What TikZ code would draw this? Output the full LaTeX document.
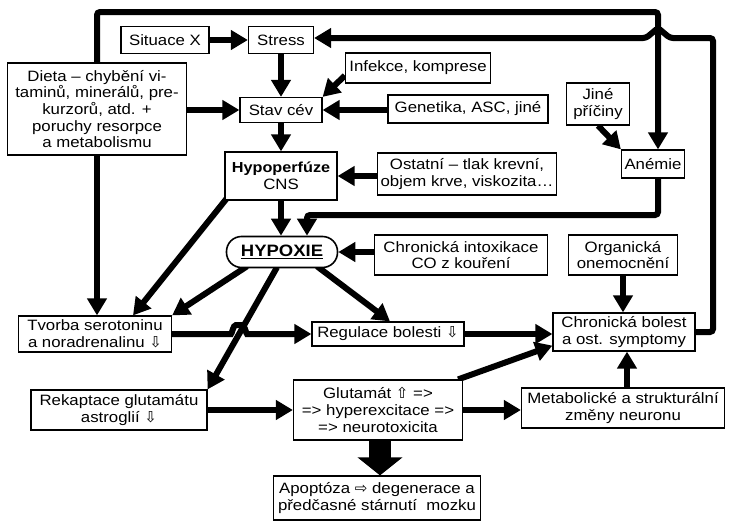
\documentclass[tikz,border=0pt]{standalone}
\usepackage{fontspec}
\setmainfont{Liberation Sans}[FakeStretch=1.12]
\newfontfamily\symf{DejaVu Sans}
\usetikzlibrary{arrows.meta,backgrounds}
\newcommand\myDn{{\symf\fontsize{15}{15}\selectfont ⇩}}
\newcommand\myUp{{\symf\fontsize{15}{15}\selectfont ⇧}}
\newcommand\myRt{{\symf\fontsize{15}{15}\selectfont ⇨}}
\begin{document}
\begin{tikzpicture}[x=1pt,y=-1pt, font=\fontsize{15}{16.6}\selectfont,
  box/.style={draw, line width=1.2pt, fill=white, align=center, inner sep=1pt},
  arr/.style={line width=6pt, -{Triangle[length=17pt,width=19pt]}, rounded corners=3pt}]
\useasboundingbox (0,0) rectangle (729,525);
\node[box, minimum width=88pt, minimum height=27pt] (situ) at (165,40) {Situace X};
\node[box, minimum width=65pt, minimum height=27pt] (stress) at (281,40) {Stress};
\node[box, minimum width=179pt, minimum height=92pt] (dieta) at (97,109) {Dieta – chybění vi-\\taminů, minerálů, pre-\\kurzorů, atd. +\\poruchy resorpce\\a metabolismu};
\node[box, minimum width=82pt, minimum height=25pt] (stav) at (281,110) {Stav cév};
\node[box, minimum width=112pt, minimum height=48pt] (hypo) at (281,176) {\textbf{\fontsize{14.5}{16.6}\selectfont Hypoperfúze}\\CNS};
\node[box, line width=1.6pt, rounded corners=15pt, minimum width=111pt, minimum height=31pt] (hypox) at (282,252) {\fontsize{16.5}{18}\selectfont\textbf{\underline{HYPOXIE}}};
\node[box, minimum width=145pt, minimum height=30pt] (infekce) at (418,68) {Infekce, komprese};
\node[box, minimum width=160pt, minimum height=28pt] (genet) at (468,109) {Genetika, ASC, jiné};
\node[box, minimum width=63pt, minimum height=42pt] (jine) at (598,104) {Jiné\\příčiny};
\node[box, minimum width=63pt, minimum height=28pt] (anemie) at (653,164) {Anémie};
\node[box, minimum width=179pt, minimum height=42pt] (ostatni) at (467,174) {Ostatní – tlak krevní,\\objem krve, viskozita…};
\node[box, minimum width=173pt, minimum height=40pt] (chronint) at (461,255) {Chronická intoxikace\\CO z kouření};
\node[box, minimum width=109pt, minimum height=40pt] (organ) at (623,255) {Organická\\onemocnění};
\node[box, minimum width=142pt, minimum height=38pt] (chron) at (624,332) {Chronická bolest\\a ost. symptomy};
\node[box, minimum width=152pt, minimum height=24pt] (regul) at (388,334) {Regulace bolesti \myDn};
\node[box, minimum width=153pt, minimum height=36pt] (tvorba) at (95,334) {Tvorba serotoninu\\a noradrenalinu \myDn};
\node[box, minimum width=176pt, minimum height=40pt] (rekap) at (119,410) {Rekaptace glutamátu\\astroglií \myDn};
\node[box, minimum width=169pt, minimum height=60pt] (glut) at (378,410) {Glutamát \myUp{} =>\\=> hyperexcitace =>\\=> neurotoxicita};
\node[box, minimum width=203pt, minimum height=40pt] (metab) at (623,408) {Metabolické a strukturální\\změny neuronu};
\node[box, minimum width=207pt, minimum height=44pt] (apop) at (377,498) {Apoptóza \myRt{} degenerace a\\předčasné stárnutí~ mozku};
\coordinate (t1) at (658,12);
\coordinate (an1) at (658,215);
\coordinate (an2) at (307,215);
\coordinate (r1) at (713,38);
\coordinate (h1) at (670,38);
\coordinate (h2) at (658,28);
\coordinate (h3) at (646,38);
\coordinate (mx) at (627,0);
\coordinate (fa) at ([xshift=2pt]glut.south);
\begin{pgfonlayer}{background}
\draw[arr] (situ) -- (stress);
\draw[arr] (stress.south -| stav.north) -- (stav.north);
\draw[arr] (stav) -- (hypo);
\draw[arr] (hypo) -- (hypo.south |- hypox.north);
\draw[arr] (dieta.east |- stav.west) -- (stav.west);
\draw[arr] (genet.west |- stav.east) -- (stav.east);
\draw[arr] (ostatni.west |- hypo.east) -- (hypo.east);
\draw[arr] (chronint.west |- hypox.east) -- (hypox.east);
\draw[arr] ([yshift=8pt]infekce.south west) -- (stav.north east);
\draw[arr] (jine.south) -- (anemie.north west);
\draw[arr] (anemie.south -| an1) -- (an1) -- (an2) -- (an2 |- hypox.north);
\draw[arr] (dieta.north) |- (t1) -- (anemie.north -| t1);
\draw[arr] (dieta.south) -- (dieta.south |- tvorba.north);
\draw[arr] (chron.east) -| (r1) -- (h1) -- (h2) -- (h3) -- ([yshift=2pt]stress.east);
\draw[arr] ([xshift=3pt,yshift=3pt]hypo.south west) -- ([xshift=38pt]tvorba.north);
\draw[arr] ([xshift=-35pt,yshift=2pt]hypox.south) -- (tvorba.north east);
\draw[arr] ([xshift=35pt,yshift=2pt]hypox.south) -- ([xshift=2pt]regul.north);
\draw[arr] ([xshift=-5pt,yshift=1pt]hypox.south) -- (rekap.north east);
\draw[arr] (tvorba.east |- regul.west) -- (228,334) .. controls (232,334) and (233,325) .. (239,325) .. controls (245,325) and (246,334) .. (250,334) -- (regul.west);
\draw[arr] (regul.east) -- (regul.east -| chron.west);
\draw[arr] (organ.south) -- (organ.south |- chron.north);
\draw[arr] (rekap) -- (glut);
\draw[arr] (glut.east) -- (glut.east -| metab.west);
\draw[arr] (metab.north -| mx) -- (chron.south -| mx);
\draw[arr] ([xshift=-5pt]glut.north east) -- ([yshift=6pt]chron.south west);
\draw[line width=22pt, -{Triangle[length=18pt,width=44pt]}] (fa) -- (fa |- apop.north);
\end{pgfonlayer}
\end{tikzpicture}
\end{document}
